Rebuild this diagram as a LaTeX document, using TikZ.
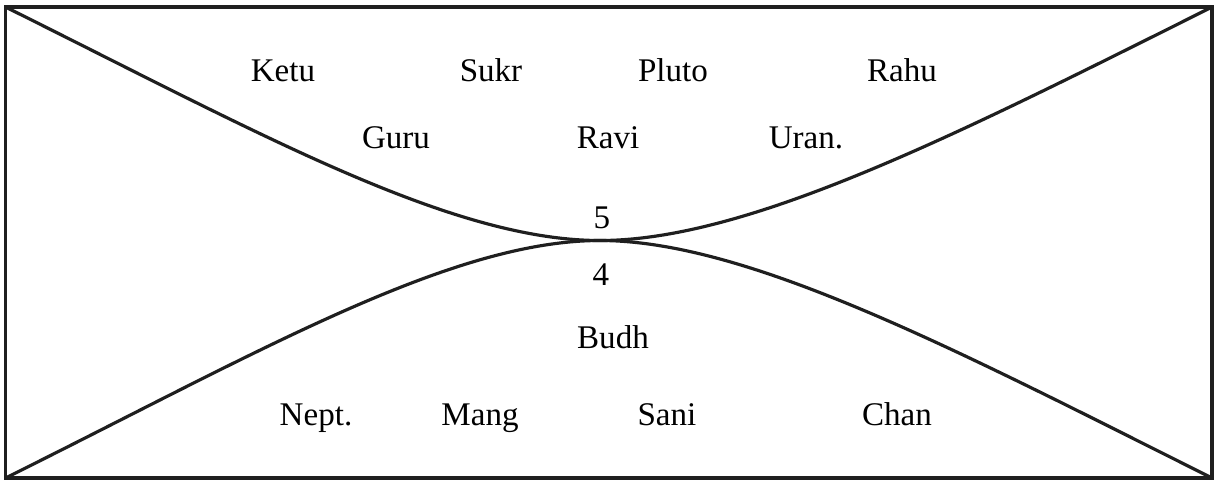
\documentclass[tikz,border=0pt]{standalone}
\usepackage{fontspec}
\setmainfont{Liberation Serif}
\usepackage{tikz}

\begin{document}
\begin{tikzpicture}[x=0.01cm, y=-0.01cm,
    planet/.style={anchor=base, inner sep=0pt, font=\fontsize{9.4}{11}\selectfont},
    chartline/.style={line width=0.9pt, draw=black!88}]
            \useasboundingbox (0,0) rectangle (1217,487);
            
            \coordinate (tl) at (5.5,7);
            \coordinate (tr) at (1212,7);
            \coordinate (bl) at (5.5,478);
            \coordinate (br) at (1212,478);
            \coordinate (mid) at (600,240.5);
            
            \draw[chartline] (tl) rectangle (br);
            
            \draw[chartline] (tl) .. controls (257,132) and (450,240.5) .. (mid)
                .. controls (750,240.5) and (962,132) .. (tr);
            \draw[chartline] (bl) .. controls (257,353) and (450,240.5) .. (mid)
                .. controls (750,240.5) and (962,353) .. (br);
            
            \node[planet] (ketu) at (283,81) {Ketu};
            \node[planet] (sukr) at (491,81) {Sukr};
            \node[planet] (pluto) at (673,81) {Pluto};
            \node[planet] (rahu) at (902,81) {Rahu};
            
            \node[planet] (guru) at (396,148) {Guru};
            \node[planet] (ravi) at (608,148) {Ravi};
            \node[planet] (uran) at (806,148) {Uran.};
            
            \node[planet] (five) at (602,228) {5};
            \node[planet] (four) at (601,285) {4};
            \node[planet] (budh) at (613,348) {Budh};
            
            \node[planet] (nept) at (316,425) {Nept.};
            \node[planet] (mang) at (480,425) {Mang};
            \node[planet] (sani) at (667,425) {Sani};
            \node[planet] (chan) at (897,425) {Chan};
        \end{tikzpicture}
\end{document}
